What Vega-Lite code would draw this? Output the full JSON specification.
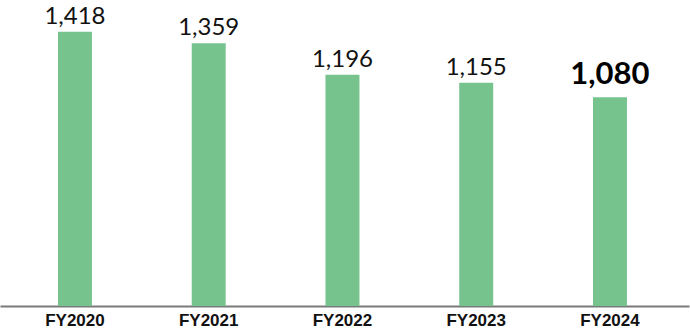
{
  "$schema": "https://vega.github.io/schema/vega-lite/v6.json",
  "width": 689,
  "height": 290,
  "autosize": "none",
  "padding": {"left": 0, "top": 16, "right": 1, "bottom": 24},
  "background": "white",
  "config": {"view": {"stroke": null}},
  "data": {"values": [
    {"year": "FY2020", "value": 1418},
    {"year": "FY2021", "value": 1359},
    {"year": "FY2022", "value": 1196},
    {"year": "FY2023", "value": 1155},
    {"year": "FY2024", "value": 1080}
  ]},
  "encoding": {
    "x": {"field": "year", "type": "nominal", "sort": null,
      "scale": {"paddingInner": 0.746, "paddingOuter": 0.4487, "align": 0.483},
      "axis": {"title": null, "labelAngle": 0, "ticks": false, "domainColor": "#7a7a7a", "domainWidth": 2,
        "labelFont": "Liberation Sans", "labelFontSize": 17, "labelFontWeight": "bold", "labelColor": "#111111", "labelPadding": 6}},
    "y": {"field": "value", "type": "quantitative", "scale": {"domain": [0, 1500]}, "axis": null}
  },
  "layer": [
    {"mark": {"type": "bar", "color": "#76c38e"}},
    {"transform": [{"filter": "datum.year != 'FY2024'"}],
     "mark": {"type": "text", "font": "Lato", "fontSize": 24, "fontWeight": "normal", "baseline": "alphabetic", "dy": -8, "color": "#111111"},
     "encoding": {"text": {"field": "value", "type": "quantitative", "format": ","}}},
    {"transform": [{"filter": "datum.year == 'FY2024'"}],
     "mark": {"type": "text", "font": "Lato", "fontSize": 31, "fontWeight": "bold", "baseline": "alphabetic", "dy": -13, "color": "#000000"},
     "encoding": {"text": {"field": "value", "type": "quantitative", "format": ","}}}
  ]
}
